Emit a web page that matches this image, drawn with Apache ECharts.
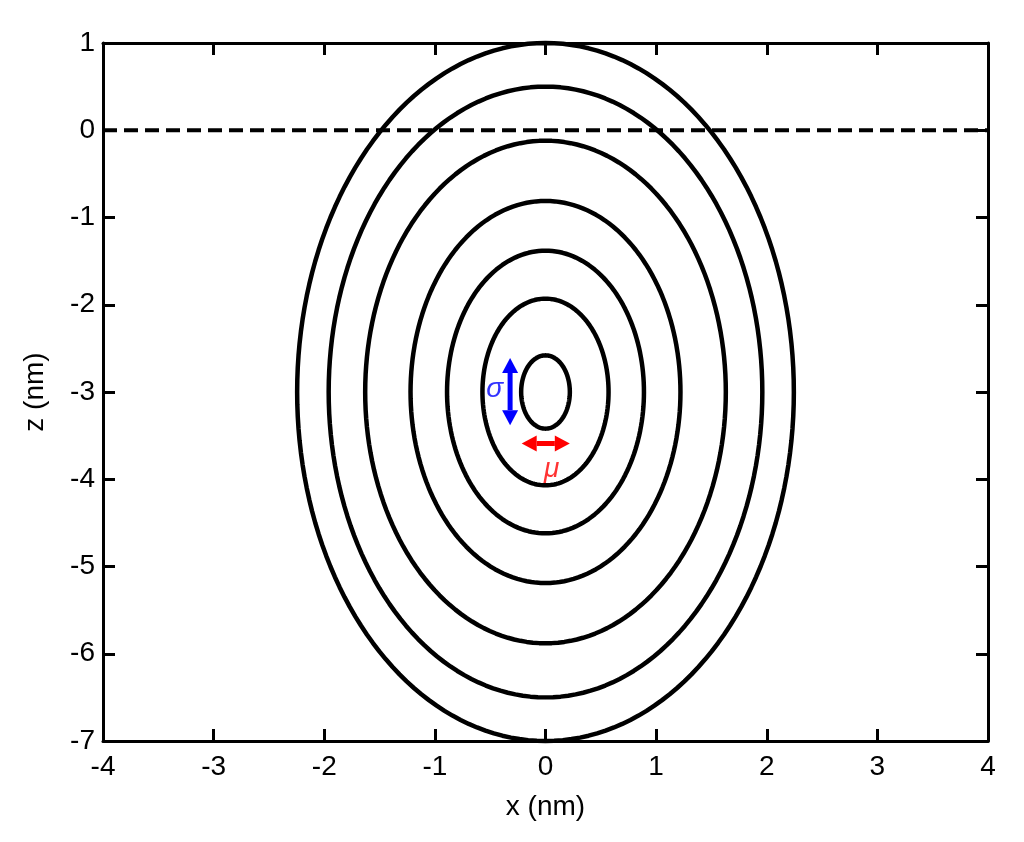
<!DOCTYPE html>
<html>
<head>
<meta charset="utf-8">
<script src="https://cdn.jsdelivr.net/npm/echarts@6/dist/echarts.min.js"></script>
<style>
  html, body { margin: 0; padding: 0; background: #fff; }
  #chart { width: 1024px; height: 842px; }
</style>
</head>
<body>
<div id="chart"></div>
<script>
// contour ellipses (nm)
var centerX = 0;
var centerZ = -3;
var semiX = [0.22, 0.57, 0.89, 1.22, 1.63, 1.96, 2.245];
var semiZ = [0.42, 1.07, 1.62, 2.19, 2.88, 3.5, 4.0];

var xTicks = [-4, -3, -2, -1, 0, 1, 2, 3, 4];
var zTicks = [-7, -6, -5, -4, -3, -2, -1, 0, 1];

// dashed line at z = 0
var surfaceLine = [[-4, 0], [4, 0]];

// arrows: [x1, z1, x2, z2]
var sigmaArrow = [-0.32, -2.61, -0.32, -3.38];
var muArrow = [-0.215, -3.59, 0.22, -3.59];
// labels: [x, z, text]
var sigmaLabel = [-0.46, -2.97, 'σ'];
var muLabel = [0.056, -3.88, 'μ'];

var FONT = '"Liberation Sans", Arial, Helvetica, sans-serif';

var chart = echarts.init(document.getElementById('chart'), null, { renderer: 'canvas' });

function axisCommon(showLabel) {
  return {
    type: 'value',
    interval: 1,
    axisLine: { show: true, onZero: false, lineStyle: { color: '#000', width: 3 } },
    axisTick: { show: true, inside: true, length: 12, lineStyle: { color: '#000', width: 3 } },
    axisLabel: { show: showLabel, color: '#000', fontSize: 28, fontFamily: FONT },
    splitLine: { show: false }
  };
}

var xBottom = axisCommon(true);
xBottom.min = xTicks[0]; xBottom.max = xTicks[xTicks.length - 1];
xBottom.position = 'bottom';
xBottom.axisLabel.margin = 12;
xBottom.name = 'x (nm)';
xBottom.nameLocation = 'middle';
xBottom.nameGap = 52;
xBottom.nameTextStyle = { color: '#000', fontSize: 28, fontFamily: FONT };

var xTop = axisCommon(false);
xTop.min = xTicks[0]; xTop.max = xTicks[xTicks.length - 1];
xTop.position = 'top';

var zLeft = axisCommon(true);
zLeft.min = zTicks[0]; zLeft.max = zTicks[zTicks.length - 1];
zLeft.position = 'left';
zLeft.axisLabel.margin = 8;
zLeft.name = 'z (nm)';
zLeft.nameLocation = 'middle';
zLeft.nameGap = 54;
zLeft.nameTextStyle = { color: '#000', fontSize: 28, fontFamily: FONT };

var zRight = axisCommon(false);
zRight.min = zTicks[0]; zRight.max = zTicks[zTicks.length - 1];
zRight.position = 'right';

var contourData = semiX.map(function (a, i) { return [centerX, centerZ, a, semiZ[i]]; });

function renderContour(params, api) {
  var cx = api.value(0), cz = api.value(1), a = api.value(2), b = api.value(3);
  var pts = [];
  for (var deg = 0; deg < 360; deg += 2) {
    var t = deg * Math.PI / 180;
    pts.push(api.coord([cx + a * Math.cos(t), cz + b * Math.sin(t)]));
  }
  return {
    type: 'polygon',
    shape: { points: pts },
    style: { fill: 'none', stroke: '#000', lineWidth: 4.5, lineJoin: 'round' }
  };
}

function renderArrow(params, api) {
  var p1 = api.coord([api.value(0), api.value(1)]);
  var p2 = api.coord([api.value(2), api.value(3)]);
  var color = params.dataIndex === 0 ? '#0000ff' : '#ff0000';
  var dx = p2[0] - p1[0], dy = p2[1] - p1[1];
  var len = Math.sqrt(dx * dx + dy * dy);
  var ux = dx / len, uy = dy / len;
  var nx = -uy, ny = ux;
  var headL = 15, headW = 8;
  function head(tip, dir) {
    var bx = tip[0] - dir * ux * headL, by = tip[1] - dir * uy * headL;
    return {
      type: 'polygon',
      shape: { points: [tip, [bx + nx * headW, by + ny * headW], [bx - nx * headW, by - ny * headW]] },
      style: { fill: color }
    };
  }
  return {
    type: 'group',
    children: [
      {
        type: 'line',
        shape: { x1: p1[0] + ux * headL, y1: p1[1] + uy * headL, x2: p2[0] - ux * headL, y2: p2[1] - uy * headL },
        style: { stroke: color, lineWidth: 5 }
      },
      head(p1, -1),
      head(p2, 1)
    ]
  };
}

var option = {
  animation: false,
  backgroundColor: '#fff',
  grid: { left: 103, right: 36, top: 43, bottom: 101, containLabel: false },
  xAxis: [xBottom, xTop],
  yAxis: [zLeft, zRight],
  series: [
    {
      type: 'line',
      data: surfaceLine,
      symbol: 'none',
      lineStyle: { color: '#000', width: 4, type: [14, 7] },
      z: 2
    },
    {
      type: 'custom',
      renderItem: renderContour,
      data: contourData,
      clip: false,
      z: 3
    },
    {
      type: 'custom',
      renderItem: renderArrow,
      data: [sigmaArrow, muArrow],
      z: 4
    },
    {
      type: 'scatter',
      symbolSize: 0,
      data: [
        { value: [sigmaLabel[0], sigmaLabel[1]], label: { formatter: sigmaLabel[2], color: '#0000ff' } },
        { value: [muLabel[0], muLabel[1]], label: { formatter: muLabel[2], color: '#ff0000' } }
      ],
      label: {
        show: true,
        position: 'inside',
        fontSize: 28,
        fontStyle: 'italic',
        fontFamily: FONT
      },
      z: 5
    }
  ]
};

chart.setOption(option);
</script>
</body>
</html>
